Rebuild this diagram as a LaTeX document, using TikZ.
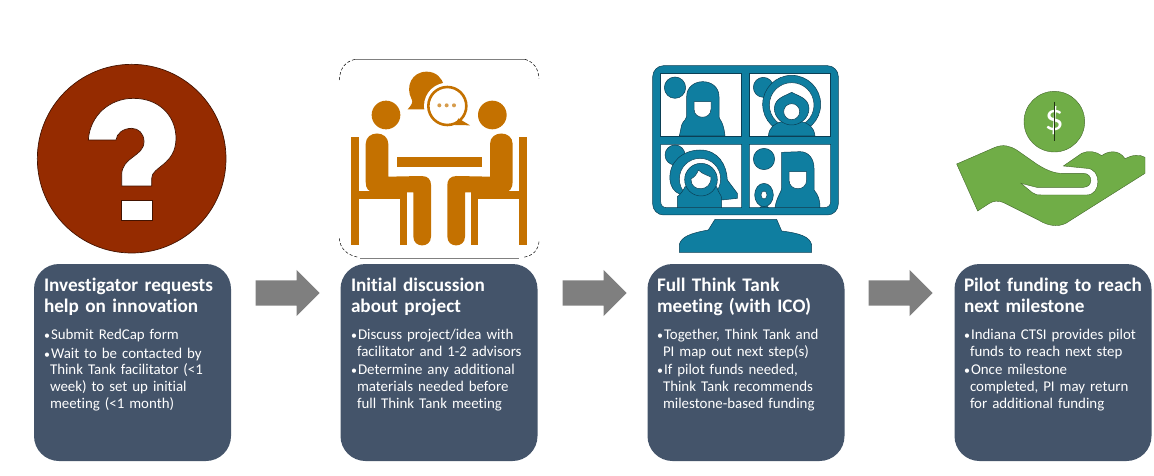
\documentclass[tikz,border=0pt]{standalone}
\usepackage{fontspec}
\setmainfont{Carlito}[Ligatures=NoCommon]
\usetikzlibrary{positioning,shapes.arrows}

\definecolor{boxblue}{HTML}{44546A}
\definecolor{askred}{HTML}{952B00}
\definecolor{talkorange}{HTML}{C47100}
\definecolor{screenteal}{HTML}{0F7EA0}
\definecolor{screenedge}{HTML}{0B3F55}
\definecolor{fundgreen}{HTML}{70AD47}
\definecolor{arrowgray}{HTML}{7F7F7F}

\newcommand{\bullitem}[1]{\noindent\hangindent=6pt\hangafter=1\makebox[7pt][l]{\scalebox{0.8}{\textbullet}}#1\par}

\begin{document}
\begin{tikzpicture}[x=1pt,y=-1pt,
    stepbox/.style={rectangle,rounded corners=25pt,fill=boxblue,minimum width=197pt,minimum height=197pt,inner sep=0pt},
    titletext/.style={anchor=north west,inner sep=0pt,text=white,text width=190pt,align=left,
      font=\fontsize{19.2}{21}\selectfont\bfseries},
    bodytext/.style={anchor=north west,inner sep=0pt,text=white,text width=190pt,align=left,
      font=\fontsize{14.9}{16.7}\selectfont\setlength{\parskip}{2pt}},
    flowarrow/.style={single arrow,fill=arrowgray,minimum height=64pt,inner sep=12.5pt,
      single arrow head extend=10.5pt,anchor=tip},
    person/.style={fill=screenteal,draw=screenedge,line width=0.5pt},
    hole/.style={fill=white,draw=screenedge,line width=0.5pt}]
  \useasboundingbox (0,0) rectangle (1154,476);

  % boxes
  \node[stepbox] (box1) at (132.5,362.5) {};
  \node[stepbox] (box2) at (439,362.5) {};
  \node[stepbox] (box3) at (746,362.5) {};
  \node[stepbox] (box4) at (1053,362.5) {};

  % arrows between the boxes
  \node[flowarrow] (arrow1) at (320,293) {};
  \node[flowarrow] (arrow2) at (627,293) {};
  \node[flowarrow] (arrow3) at (933,293) {};

  % texts
  \node[titletext,below right=14pt and 10pt of box1.north west] (title1) {Investigator requests\\help on innovation};
  \node[bodytext,below right=65pt and 10pt of box1.north west] (body1) {%
    \bullitem{Submit RedCap form}
    \bullitem{Wait to be contacted by\newline Think Tank facilitator (<1\newline week) to set up initial\newline meeting (<1 month)}};

  \node[titletext,below right=14pt and 10.5pt of box2.north west] (title2) {Initial discussion\\about project};
  \node[bodytext,below right=65pt and 10.5pt of box2.north west] (body2) {%
    \bullitem{Discuss project/idea with\newline facilitator and 1-2 advisors}
    \bullitem{Determine any additional\newline materials needed before\newline full Think Tank meeting}};

  \node[titletext,below right=14pt and 9.5pt of box3.north west] (title3) {Full Think Tank\\meeting (with ICO)};
  \node[bodytext,below right=65pt and 9.5pt of box3.north west] (body3) {%
    \bullitem{Together, Think Tank and\newline PI map out next step(s)}
    \bullitem{If pilot funds needed,\newline Think Tank recommends\newline milestone-based funding}};

  \node[titletext,below right=14pt and 9.5pt of box4.north west] (title4) {Pilot funding to reach\\next milestone};
  \node[bodytext,below right=65pt and 9.5pt of box4.north west] (body4) {%
    \bullitem{Indiana CTSI provides pilot\newline funds to reach next step}
    \bullitem{Once milestone\newline completed, PI may return\newline for additional funding}};

  % question mark icon
  \begin{scope}[shift={(20,50)},scale=1/3]
    \fill[askred,draw=askred!45!black,line width=0.7pt] (335,326) circle (283);
    \filldraw[fill=white,draw=askred!45!black,line width=0.7pt]
      (205,270) .. controls (210,195) and (270,145) .. (340,145)
      .. controls (420,145) and (468,200) .. (468,265)
      .. controls (468,345) and (395,350) .. (395,385) -- (395,408) -- (305,408) -- (305,375)
      .. controls (305,320) and (372,320) .. (372,275)
      .. controls (372,250) and (355,235) .. (335,235)
      .. controls (310,235) and (290,250) .. (288,270) -- cycle;
    \filldraw[fill=white,draw=askred!45!black,line width=0.7pt] (305,450) rectangle (398,512);
  \end{scope}

  % meeting icon
  \begin{scope}[shift={(330,50)},scale=1/3]
    \draw[gray,line width=0.6pt] (75,28) -- (585,28);
    \draw[gray,line width=0.6pt] (90,625) -- (568,625);
    \draw[black,densely dashed,line width=0.5pt] (28,90) .. controls (30,55) and (45,35) .. (75,28);
    \draw[black,densely dashed,line width=0.5pt] (585,28) .. controls (610,35) and (625,55) .. (627,85);
    \draw[black,densely dashed,line width=0.5pt] (28,565) .. controls (30,595) and (50,615) .. (85,622);
    \draw[black,densely dashed,line width=0.5pt] (627,575) .. controls (625,600) and (610,617) .. (580,622);
    \fill[talkorange] (200,320) rectangle (455,350);
    % speech bubbles
    \fill[talkorange] (233,178) .. controls (245,165) and (250,155) .. (245,148)
      .. controls (225,110) and (245,65) .. (290,65) .. controls (320,65) and (335,85) .. (342,105)
      -- (290,178) -- cycle;
    \fill[white] (352,168) circle (70);
    \draw[talkorange,line width=2.6pt] (352,168) circle (57);
    \fill[talkorange] (385,205) -- (420,226) -- (375,225) -- cycle;
    \foreach \dotx in {328,350,372}
      \fill[talkorange!70] (\dotx,166) circle (6);
  \end{scope}
  \foreach \flip/\ox in {1/330,-1/548.33} {
    \begin{scope}[shift={(\ox,50)},xscale=\flip/3,yscale=1/3]
      \fill[talkorange] (168,195) circle (43);
      \fill[talkorange] (63,262) rectangle (87,585);
      \fill[talkorange] (63,422) rectangle (232,447);
      \fill[talkorange] (210,447) rectangle (232,585);
      \fill[talkorange] (107,282) .. controls (107,240) and (175,240) .. (175,282)
        -- (175,380) -- (275,378) .. controls (295,378) and (303,390) .. (303,405)
        -- (303,560) .. controls (303,595) and (250,595) .. (250,560)
        -- (250,427) -- (135,427) .. controls (115,427) and (107,415) .. (107,395) -- cycle;
    \end{scope}
  }

  % video call icon
  \begin{scope}[shift={(640,55)},scale=1/3]
    \filldraw[person,rounded corners=11pt] (38,32) rectangle (595,480);
    \filldraw[person] (118,592) -- (118,568) .. controls (125,545) and (150,535) .. (205,525)
      -- (225,493) -- (410,493) -- (425,528) .. controls (480,535) and (510,545) .. (515,570)
      -- (515,592) -- cycle;
    \filldraw[hole] (62,55) -- (305,55) -- (305,243) -- (62,243) -- cycle;
    \filldraw[hole] (328,55) -- (572,55) -- (572,243) -- (328,243) -- cycle;
    \filldraw[hole] (62,268) -- (305,268) -- (305,458) -- (80,458) .. controls (68,458) and (62,450) .. (62,440) -- cycle;
    \filldraw[hole] (328,268) -- (572,268) -- (572,440) .. controls (572,450) and (565,458) .. (552,458) -- (328,458) -- cycle;
    % upper left person
    \filldraw[person] (105,98) circle (32);
    \filldraw[person] (118,243) -- (125,210) .. controls (130,195) and (140,195) .. (140,185)
      -- (140,125) .. controls (140,65) and (237,65) .. (237,125) -- (237,185)
      .. controls (237,195) and (250,195) .. (255,243) -- cycle;
    \filldraw[hole] (162,140) -- (213,140) -- (213,162) .. controls (213,195) and (162,195) .. (162,162) -- cycle;
    % upper right person
    \filldraw[person] (370,97) circle (30);
    \filldraw[person] (455,148) circle (87);
    \filldraw[hole] (455,150) circle (67);
    \filldraw[person] (385,243) .. controls (388,215) and (405,205) .. (425,200) -- (485,200)
      .. controls (505,205) and (522,215) .. (525,243) -- cycle;
    \filldraw[person] (403,160) .. controls (405,130) and (430,125) .. (455,112)
      .. controls (480,125) and (505,130) .. (507,160) .. controls (507,190) and (480,210) .. (455,210)
      .. controls (430,210) and (403,190) .. (403,160) -- cycle;
    \filldraw[hole] (455,170) circle (24);
    % lower left person
    \filldraw[person] (105,300) circle (30);
    \filldraw[person] (90,375) .. controls (85,320) and (130,285) .. (180,285)
      .. controls (235,285) and (260,330) .. (262,375) -- (292,415) -- (292,430) -- (245,435)
      -- (190,430) .. controls (130,425) and (95,420) .. (90,375) -- cycle;
    \filldraw[hole] (180,372) circle (62);
    \filldraw[person] (112,458) -- (112,425) .. controls (125,415) and (130,405) .. (135,395)
      -- (230,395) .. controls (235,415) and (245,420) .. (245,430) -- (245,458) -- cycle;
    \filldraw[person] (183,374) circle (49);
    \filldraw[hole] (153,372) .. controls (165,365) and (172,355) .. (175,345)
      .. controls (188,358) and (205,362) .. (213,366) .. controls (216,412) and (150,412) .. (153,372) -- cycle;
    % lower right person
    \filldraw[person] (372,312) circle (32);
    \filldraw[person] (405,458) .. controls (410,425) and (425,410) .. (425,400)
      -- (425,292) -- (480,290) .. controls (505,290) and (522,310) .. (522,340)
      -- (522,405) .. controls (535,420) and (540,435) .. (540,458) -- cycle;
    \filldraw[hole] (447,350) -- (500,350) -- (500,375) .. controls (500,410) and (447,410) .. (447,375) -- cycle;
    \filldraw[person] (360,458) -- (372,445) -- (385,458) -- cycle;
    \filldraw[person] (372,420) ellipse (28 and 35);
    \filldraw[hole] (372,420) ellipse (9 and 12);
  \end{scope}

  % funding icon
  \begin{scope}[shift={(945,70)},scale=1/3]
    \filldraw[fill=fundgreen,draw=fundgreen!60!black,line width=0.4pt] (328,155) circle (91);
    \node[text=white,font=\fontsize{38}{38}\selectfont] (dollar) at (328,153) {\$};
    \draw[fundgreen!30!black,line width=1.2pt] (328,95) -- (328,213);
    \filldraw[fill=fundgreen,draw=fundgreen!60!black,line width=0.4pt]
      (35,282) -- (150,232) .. controls (175,222) and (195,228) .. (215,240)
      -- (275,282) .. controls (300,298) and (325,310) .. (350,310) -- (415,310)
      .. controls (445,310) and (445,352) .. (415,352) -- (275,352) -- (228,340)
      -- (262,368) .. controls (270,375) and (280,375) .. (290,375) -- (425,375)
      .. controls (470,375) and (470,295) .. (425,295) -- (355,288)
      -- (410,250) .. controls (430,240) and (455,245) .. (470,257)
      .. controls (485,245) and (520,235) .. (540,266)
      .. controls (560,255) and (585,252) .. (600,262) -- (600,310) -- (375,452)
      .. controls (350,472) and (315,472) .. (280,450) -- (180,400)
      .. controls (160,390) and (145,392) .. (130,402) -- (98,423) -- cycle;
  \end{scope}
\end{tikzpicture}
\end{document}
